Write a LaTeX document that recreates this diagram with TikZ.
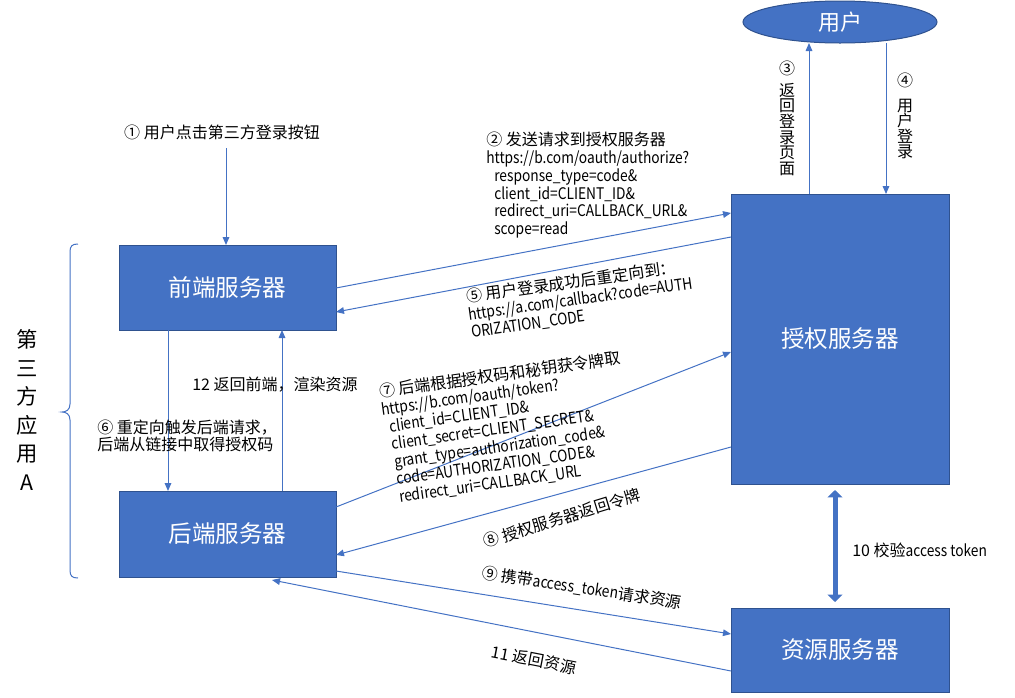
\documentclass[tikz,border=0pt]{standalone}
\usepackage{fontspec}
\setmainfont{Noto Sans CJK SC}
\newfontfamily\latn[FakeStretch=0.86]{Noto Sans CJK SC}
\usetikzlibrary{arrows.meta,calc,shapes.geometric}
\definecolor{boxblue}{HTML}{4472C4}
\definecolor{boxedge}{HTML}{2F528F}
\definecolor{linkblue}{HTML}{4472C4}
\begin{document}
\begin{tikzpicture}[x=0.75pt,y=-0.75pt,
  server/.style={rectangle, fill=boxblue, draw=boxedge, line width=0.75pt, text=white,
    font=\fontsize{17.7pt}{20pt}\selectfont, inner sep=0pt, outer sep=0pt},
  link/.style={draw=linkblue, line width=0.75pt, -{Triangle[length=6pt,width=5pt]}},
  bigarrow/.style={draw=boxblue, line width=3.75pt,
    {Triangle[length=5.5pt,width=11pt]}-{Triangle[length=5.5pt,width=11pt]}},
  lbl/.style={font=\fontsize{12pt}{13.3pt}\selectfont, inner sep=0pt, text=black},
  vlbl/.style={font=\fontsize{12pt}{11.7pt}\selectfont, inner sep=0pt, text=black, align=center},
  blk/.style={lbl, align=left, anchor=north west}]
\useasboundingbox (0,0) rectangle (1015,697);

% servers
\node[server, minimum width=162.75pt, minimum height=63.75pt] (front) at (227.5,287.5) {前端服务器};
\node[server, minimum width=162.75pt, minimum height=64.5pt] (back) at (227.5,534) {后端服务器};
\node[server, minimum width=163.5pt, minimum height=217.5pt] (auth) at (840,339) {授权服务器};
\node[server, minimum width=163.5pt, minimum height=63pt] (res) at (840,650) {资源服务器};
\node[ellipse, fill=boxblue, draw=boxedge, line width=0.75pt, text=white, inner sep=0pt, outer sep=0pt,
  minimum width=145.5pt, minimum height=31.5pt, font=\fontsize{16.5pt}{18pt}\selectfont] (user) at (840,22) {用户};

% brace
\draw[draw=linkblue, line width=0.75pt] (78,244) .. controls (72,244) and (70,246) .. (70,252) -- (70,404)
  .. controls (70,410) and (66,412) .. (62,412) .. controls (66,412) and (70,414) .. (70,420) -- (70,570)
  .. controls (70,576) and (72,578) .. (78,578);
\node[font=\fontsize{16pt}{21.4pt}\selectfont, align=center, inner sep=0pt] (app) at (27,410) {第\\三\\方\\应\\用\\A};

% step 1
\coordinate (c1) at (226,148);
\node[lbl] (l1) at (222,132) {① 用户点击第三方登录按钮};
\draw[link] (c1) -- (front.north -| 226,0);

% step 2
\draw[link] (front.east |- 0,288) -- (auth.west |- 0,213);
\node[blk] (l2) at (486,132) {② 发送请求到授权服务器\\{\latn https://b.com/oauth/authorize?}\\
  \hspace*{6pt}{\latn response\_type=code\&}\\\hspace*{6pt}{\latn client\_id=CLIENT\_ID\&}\\
  \hspace*{6pt}{\latn redirect\_uri=CALLBACK\_URL\&}\\\hspace*{6pt}{\latn scope=read}};

% step 3 / 4
\draw[link] (auth.north -| 809,0) -- (user.south -| 809,0);
\node[vlbl] (l3) at (787,118) {③\\[5pt]返\\回\\登\\录\\页\\面};
\draw[link] (user.south -| 886,0) -- (auth.north -| 886,0);
\node[vlbl] (l4) at (905,116) {④\\[7pt]用\\户\\登\\录};

% step 5
\draw[link] (auth.west |- 0,237) -- (front.east |- 0,312);
\node[blk, rotate=8] (l5) at (465,289) {⑤ 用户登录成功后重定向到：\\{\latn https://a.com/callback?code=AUTH}\\{\latn ORIZATION\_CODE}};

% step 6 / 12
\draw[link] (front.south -| 168,0) -- (back.north -| 168,0);
\node[lbl, align=left, anchor=west] (l6) at (97,436) {⑥ 重定向触发后端请求，\\后端从链接中取得授权码};
\draw[link] (back.north -| 282,0) -- (front.south -| 282,0);
\node[lbl] (l12) at (275,385) {12 返回前端，渲染资源};

% step 7
\draw[link] (back.east |- 0,507) -- (auth.west |- 0,352);
\node[blk, rotate=8] (l7) at (378,384) {⑦ 后端根据授权码和秘钥获令牌取\\{\latn https://b.com/oauth/token?}\\
  \hspace*{4pt}{\latn client\_id=CLIENT\_ID\&}\\\hspace*{4pt}{\latn client\_secret=CLIENT\_SECRET\&}\\
  \hspace*{4pt}{\latn grant\_type=authorization\_code\&}\\\hspace*{4pt}{\latn code=AUTHORIZATION\_CODE\&}\\
  \hspace*{4pt}{\latn redirect\_uri=CALLBACK\_URL}};

% step 8
\draw[link] (auth.west |- 0,447) -- (back.east |- 0,555);
\node[lbl, rotate=17] (l8) at (562,518) {⑧ 授权服务器返回令牌};

% step 9
\draw[link] (back.east |- 0,571) -- (res.west |- 0,634);
\node[lbl, rotate=-8.6] (l9) at (582,588) {⑨ 携带{\latn access\_token}请求资源};

% step 11
\draw[link] (res.west |- 0,671) -- ($(back.south)+(44.5,3)$);
\node[lbl, rotate=-11] (l11) at (534,660) {11 返回资源};

% step 10
\draw[bigarrow] ($(auth.south -| 835,0)+(0,6)$) -- ($(res.north -| 835,0)+(0,-6)$);
\node[lbl, anchor=west] (l10) at (852,550) {10 校验{\latn access token}};
\end{tikzpicture}
\end{document}
